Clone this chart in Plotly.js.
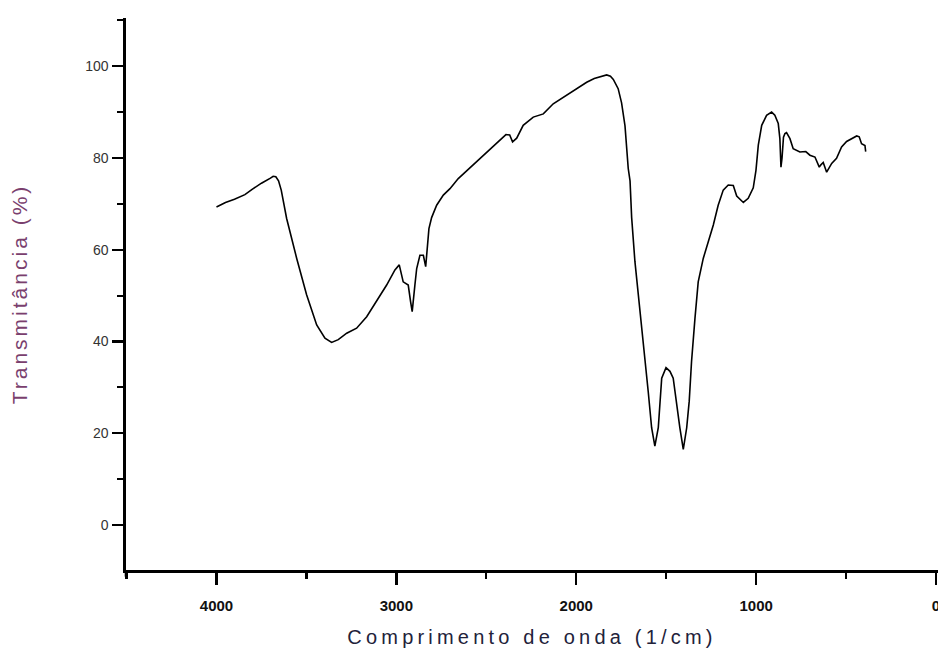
<!DOCTYPE html>
<html>
<head>
<meta charset="utf-8">
<script src="https://cdn.plot.ly/plotly-3.0.1.min.js"></script>
<style>
html,body{margin:0;padding:0;background:#fff;}
#chart{width:938px;height:660px;}
.xtitle{letter-spacing:4.2px;}
.ytitle{letter-spacing:3.0px;}
</style>
</head>
<body>
<div id="chart"></div>
<script>
// Wavenumber (1/cm)
const wavenumber = [4000,3950,3900,3842,3800,3750,3700,3685,3670,3655,3640,3610,3554,3499,3443,3397,3360,3323,3276,3221,3165,3110,3054,3008,2984,2962,2934,2921,2912,2897,2887,2869,2850,2837,2826,2819,2804,2776,2739,2702,2656,2600,2554,2500,2442,2391,2370,2354,2331,2295,2239,2183,2128,2080,2035,1990,1942,1900,1850,1831,1810,1794,1767,1748,1729,1720,1711,1701,1692,1674,1655,1637,1618,1600,1581,1563,1544,1535,1525,1501,1479,1461,1442,1424,1405,1386,1372,1359,1340,1322,1294,1266,1238,1211,1183,1155,1127,1108,1071,1044,1016,1001,988,969,942,914,896,877,868,862,856,848,840,831,812,794,757,724,701,673,649,640,627,608,580,553,525,497,469,441,427,414,395,391];
// Transmittance (%)
const transmitance = [69.3,70.3,71.0,72.0,73.2,74.5,75.6,76.0,75.9,75.0,73.0,66.8,58.1,50.2,43.6,40.7,39.8,40.4,41.8,42.9,45.4,48.7,52.3,55.6,56.7,53.0,52.3,48.7,46.5,52.3,55.9,58.8,58.8,56.3,61.0,64.6,67.0,69.7,71.9,73.3,75.5,77.5,79.1,81.0,83.1,85.1,85.0,83.5,84.3,87.1,88.9,89.6,91.8,93.0,94.0,95.2,96.5,97.3,98.0,98.1,97.8,97.1,95.1,92.0,87.0,82.8,77.7,75.0,67.0,57.5,50.2,42.9,37.1,29.1,21.2,17.2,21.2,26.2,32.0,34.3,33.5,32.0,26.2,21.2,16.5,21.2,27.0,35.7,45.1,53.0,58.1,61.7,65.4,69.7,73.0,74.1,74.0,71.7,70.3,71.2,73.5,77.3,82.8,87.1,89.3,90.0,89.3,87.5,84.2,78.0,80.0,84.5,85.3,85.5,84.2,82.0,81.3,81.4,80.6,80.2,78.0,78.5,79.0,76.9,78.8,79.9,82.4,83.6,84.2,84.8,84.6,83.1,82.7,81.4];
const xTickVals = [4000,3000,2000,1000,0];
const yTickVals = [0,20,40,60,80,100];

const trace = {
  x: wavenumber, y: transmitance, type: 'scatter', mode: 'lines',
  line: {color: '#000', width: 1.6}, hoverinfo: 'skip'
};

const layout = {
  width: 938, height: 660,
  margin: {l: 126, r: 0, t: 18, b: 90},
  paper_bgcolor: '#fff', plot_bgcolor: '#fff',
  showlegend: false,
  font: {family: 'Liberation Sans, Arial, sans-serif', color: '#222'},
  xaxis: {
    range: [4503, -11], showgrid: false, zeroline: false,
    showline: true, linecolor: '#000', linewidth: 2.6,
    ticks: 'outside', ticklen: 12, tickwidth: 2.4, tickcolor: '#000',
    tickvals: xTickVals, ticktext: xTickVals.map(String),
    ticklabelstandoff: 8, ticklabeloverflow: 'allow',
    tickfont: {family: 'Liberation Sans Narrow, Liberation Sans, Arial', size: 15, color: '#111', weight: 'bold'},
    minor: {dtick: 500, ticklen: 6, tickwidth: 2.2, tickcolor: '#000', ticks: 'outside', showgrid: false},
    title: {text: 'Comprimento de onda (1/cm)', standoff: 18,
      font: {family: 'Liberation Sans, Arial', size: 20, color: '#22223a'}}
  },
  yaxis: {
    range: [-9.8, 110.5], showgrid: false, zeroline: false,
    showline: true, linecolor: '#000', linewidth: 2.6,
    ticks: 'outside', ticklen: 11, tickwidth: 2.4, tickcolor: '#000',
    tickvals: yTickVals, ticktext: yTickVals.map(String),
    ticklabelstandoff: 1,
    tickfont: {family: 'Liberation Sans, Arial', size: 14, color: '#333'},
    minor: {dtick: 10, ticklen: 6, tickwidth: 2.2, tickcolor: '#000', ticks: 'outside', showgrid: false},
    title: {text: 'Transmitância (%)', standoff: 52,
      font: {family: 'Liberation Sans, Arial', size: 21, color: '#7a3f6e'}}
  },
  shapes: [{type: 'line', xref: 'paper', yref: 'paper', x0: 0, x1: 0, y0: -0.012, y1: 0,
    line: {color: '#000', width: 2.6}}]
};

Plotly.newPlot('chart', [trace], layout, {staticPlot: true, displayModeBar: false});
</script>
</body>
</html>
